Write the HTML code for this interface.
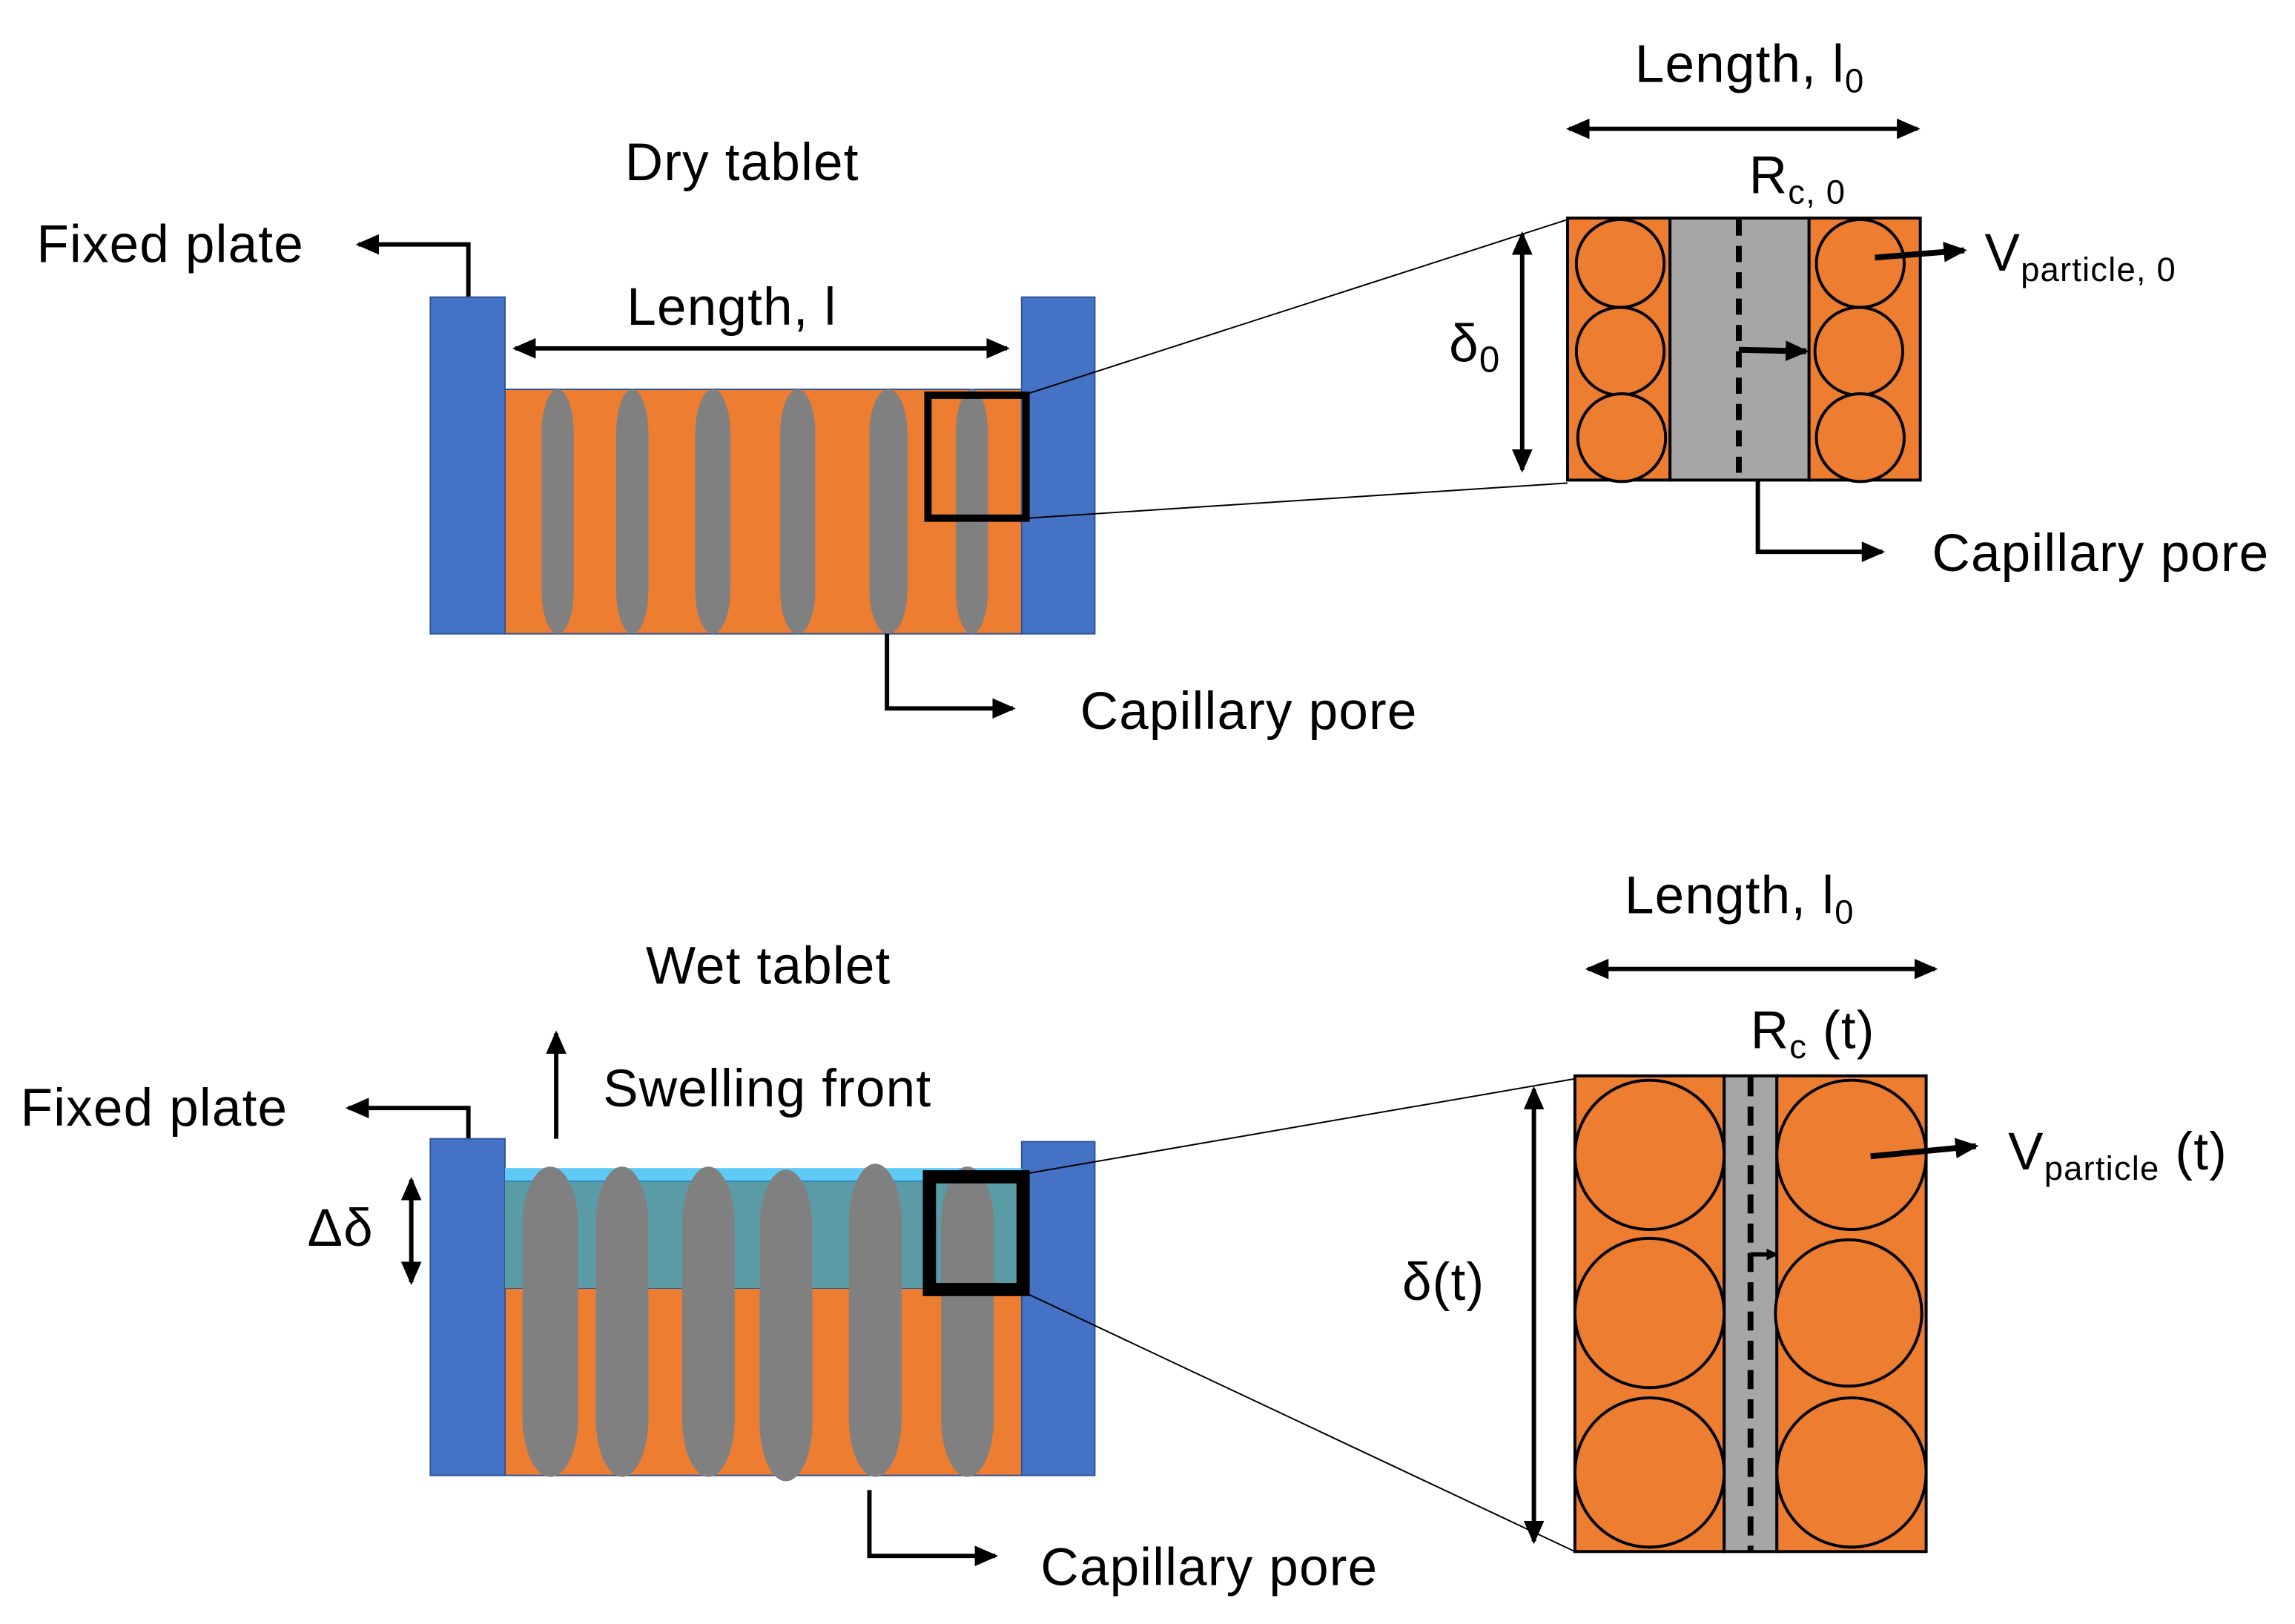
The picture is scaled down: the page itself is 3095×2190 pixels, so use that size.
<!DOCTYPE html>
<html><head><meta charset="utf-8"><style>html,body{margin:0;padding:0;background:#fff}svg{display:block}text{font-family:"Liberation Sans",sans-serif;fill:#000;letter-spacing:0.6px}</style></head>
<body>
<svg width="3095" height="2190" viewBox="0 0 1568 1109.5" preserveAspectRatio="none" xmlns="http://www.w3.org/2000/svg">
<defs>
<marker id="a" markerWidth="8" markerHeight="8" refX="6" refY="4" orient="auto-start-reverse" markerUnits="userSpaceOnUse"><path d="M0,0 L8,4 L0,8 Z" fill="#000"/></marker>
<marker id="b" markerWidth="16" markerHeight="14" refX="14" refY="7" orient="auto-start-reverse" markerUnits="userSpaceOnUse"><path d="M0,0 L16,7 L0,14 Z" fill="#000"/></marker>
</defs>
<g font-size="36">
<!-- TOP -->
<text x="507" y="123" text-anchor="middle">Dry tablet</text>
<text x="25" y="179">Fixed plate</text>
<path d="M320,203 V167 H245" stroke="#000" stroke-width="3" fill="none" marker-end="url(#b)"/>
<rect x="294" y="203" width="51" height="230" fill="#4472c4" stroke="#2f5597"/>
<rect x="698" y="203" width="50" height="230" fill="#4472c4" stroke="#2f5597"/>
<rect x="345" y="266" width="353" height="167" fill="#ed7d31" stroke="#2f5597" stroke-width="1"/>
<g fill="#808080">
<rect x="370" y="266" width="22" height="167" rx="11" ry="30"/><rect x="421" y="266" width="22" height="167" rx="11" ry="30"/><rect x="475" y="266" width="24" height="167" rx="12" ry="30"/><rect x="533" y="266" width="24" height="167" rx="12" ry="30"/><rect x="594" y="266" width="26" height="167" rx="13" ry="30"/><rect x="653" y="266" width="22" height="167" rx="11" ry="30"/>
</g>
<rect x="634" y="270" width="67" height="84" fill="none" stroke="#000" stroke-width="5"/>
<text x="500" y="222" text-anchor="middle">Length, l</text>
<line x1="352" y1="238" x2="688" y2="238" stroke="#000" stroke-width="3" marker-start="url(#b)" marker-end="url(#b)"/>
<path d="M606,433 V484 H692" stroke="#000" stroke-width="3" fill="none" marker-end="url(#b)"/>
<text x="738" y="498">Capillary pore</text>
<line x1="702" y1="269" x2="1071" y2="150" stroke="#000" stroke-width="1"/>
<line x1="702" y1="354" x2="1071" y2="330" stroke="#000" stroke-width="1"/>
<rect x="1071" y="149" width="70" height="179" fill="#ed7d31" stroke="#000" stroke-width="2"/>
<rect x="1141" y="149" width="95" height="179" fill="#a6a6a6" stroke="#000" stroke-width="2"/>
<rect x="1236" y="149" width="76" height="179" fill="#ed7d31" stroke="#000" stroke-width="2"/>
<g fill="#ed7d31" stroke="#000" stroke-width="2">
<circle cx="1107" cy="180" r="30"/><circle cx="1107" cy="240" r="30"/><circle cx="1108" cy="299" r="30"/>
<circle cx="1271" cy="180" r="30"/><circle cx="1270" cy="240" r="30"/><circle cx="1271" cy="299" r="30"/>
</g>
<line x1="1188" y1="150" x2="1188" y2="328" stroke="#000" stroke-width="4" stroke-dasharray="11,7"/>
<line x1="1188" y1="239" x2="1234" y2="240" stroke="#000" stroke-width="4" marker-end="url(#b)"/>
<line x1="1281" y1="176" x2="1342" y2="171" stroke="#000" stroke-width="4" marker-end="url(#b)"/>
<text x="1356" y="185">V<tspan font-size="23" dy="7">particle, 0</tspan></text>
<text x="1195" y="132">R<tspan font-size="23" dy="7">c, 0</tspan></text>
<text x="1117" y="56">Length, l<tspan font-size="23" dy="7">0</tspan></text>
<line x1="1072" y1="88" x2="1310" y2="88" stroke="#000" stroke-width="3" marker-start="url(#b)" marker-end="url(#b)"/>
<line x1="1040" y1="160" x2="1040" y2="321" stroke="#000" stroke-width="3" marker-start="url(#b)" marker-end="url(#b)"/>
<text x="990" y="247">δ<tspan font-size="25" dy="7">0</tspan></text>
<path d="M1201,328 V377 H1286" stroke="#000" stroke-width="3" fill="none" marker-end="url(#b)"/>
<text x="1320" y="390">Capillary pore</text>

<!-- BOTTOM -->
<text x="525" y="672" text-anchor="middle">Wet tablet</text>
<text x="14" y="769">Fixed plate</text>
<path d="M320,778 V757 H238" stroke="#000" stroke-width="3" fill="none" marker-end="url(#b)"/>
<line x1="380" y1="778" x2="380" y2="706" stroke="#000" stroke-width="3" marker-end="url(#b)"/>
<text x="412" y="756">Swelling front</text>
<rect x="294" y="778" width="51" height="230" fill="#4472c4" stroke="#2f5597"/>
<rect x="698" y="780" width="50" height="228" fill="#4472c4" stroke="#2f5597"/>
<rect x="345" y="880" width="353" height="128" fill="#ed7d31" stroke="#2f5597" stroke-width="1"/>
<rect x="345" y="807" width="353" height="73" fill="#5b9ba6"/>
<rect x="345" y="798" width="353" height="9" fill="#5fcaf5"/>
<line x1="345" y1="807" x2="698" y2="807" stroke="#2e86c1" stroke-width="1"/>
<g fill="#808080">
<rect x="357" y="797" width="38" height="212" rx="19" ry="40"/><rect x="407" y="797" width="36" height="212" rx="18" ry="40"/><rect x="466" y="797" width="36" height="212" rx="18" ry="40"/><rect x="519" y="799" width="36" height="213" rx="18" ry="40"/><rect x="580" y="795" width="36" height="214" rx="18" ry="40"/><rect x="643" y="797" width="36" height="212" rx="18" ry="40"/>
</g>
<rect x="635" y="804" width="64" height="77" fill="none" stroke="#000" stroke-width="9"/>
<line x1="281" y1="806" x2="281" y2="876" stroke="#000" stroke-width="3" marker-start="url(#b)" marker-end="url(#b)"/>
<text x="210" y="851">Δδ</text>
<path d="M594,1018 V1063 H680" stroke="#000" stroke-width="3" fill="none" marker-end="url(#b)"/>
<text x="711" y="1083">Capillary pore</text>
<line x1="700" y1="802" x2="1076" y2="737" stroke="#000" stroke-width="1"/>
<line x1="700" y1="883" x2="1076" y2="1060" stroke="#000" stroke-width="1"/>
<rect x="1076" y="735" width="102" height="325" fill="#ed7d31" stroke="#000" stroke-width="2"/>
<rect x="1178" y="735" width="36" height="325" fill="#a6a6a6" stroke="#000" stroke-width="2"/>
<rect x="1214" y="735" width="102" height="325" fill="#ed7d31" stroke="#000" stroke-width="2"/>
<g fill="#ed7d31" stroke="#000" stroke-width="2">
<circle cx="1127" cy="789" r="51"/><circle cx="1127" cy="897" r="51"/><circle cx="1127" cy="1006" r="51"/>
<circle cx="1265" cy="789" r="51"/><circle cx="1263" cy="897" r="50"/><circle cx="1265" cy="1006" r="51"/>
</g>
<line x1="1196" y1="736" x2="1196" y2="1060" stroke="#000" stroke-width="4" stroke-dasharray="13,7"/>
<line x1="1196" y1="857" x2="1213" y2="857" stroke="#000" stroke-width="3" marker-end="url(#a)"/>
<line x1="1278" y1="790" x2="1350" y2="783" stroke="#000" stroke-width="4" marker-end="url(#b)"/>
<text x="1372" y="799">V<tspan font-size="23" dy="7">particle</tspan><tspan dy="-7"> (t)</tspan></text>
<text x="1196" y="716">R<tspan font-size="23" dy="7">c</tspan><tspan dy="-7"> (t)</tspan></text>
<text x="1110" y="624">Length, l<tspan font-size="23" dy="7">0</tspan></text>
<line x1="1085" y1="662" x2="1322" y2="662" stroke="#000" stroke-width="3" marker-start="url(#b)" marker-end="url(#b)"/>
<line x1="1048" y1="744" x2="1048" y2="1053" stroke="#000" stroke-width="3" marker-start="url(#b)" marker-end="url(#b)"/>
<text x="958" y="888">δ(t)</text>
</g>
</svg>
</body></html>
